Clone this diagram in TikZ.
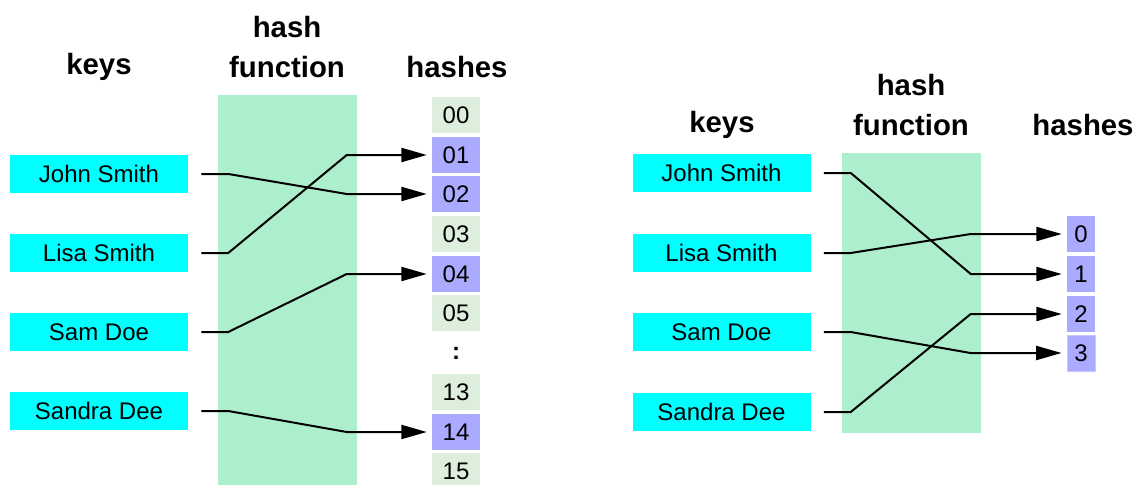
\documentclass[tikz,border=0pt]{standalone}
\usepackage{fontspec}
\setmainfont{Liberation Sans}
\usetikzlibrary{arrows.meta,calc}
\definecolor{keycyan}{HTML}{00FFFF}
\definecolor{fngreen}{HTML}{ADEFCD}
\definecolor{slotpale}{HTML}{DDEEDD}
\definecolor{slotblue}{HTML}{AAAAFF}
\definecolor{slotedge}{HTML}{C8C8FF}
\begin{document}
\begin{tikzpicture}[x=0.75pt,y=-0.75pt,
  keybox/.style={fill=keycyan, inner sep=0pt, minimum width=133.5pt, minimum height=28.5pt,
    font=\fontsize{18}{20}\selectfont},
  slot/.style={inner sep=0pt, minimum width=36pt, minimum height=27pt,
    font=\fontsize{18}{20}\selectfont},
  slotfree/.style={slot, fill=slotpale},
  slotused/.style={slot, fill=slotblue},
  smallslot/.style={slotused, minimum width=21pt},
  heading/.style={font=\fontsize{22}{30}\selectfont\bfseries, align=center, inner sep=0pt},
  link/.style={line width=1.5pt, -{Triangle[length=19pt,width=10.5pt]}, shorten >=3.75pt}
]
\useasboundingbox (0,0) rectangle (1135,485);

% ---------- left: sparse table ----------
\fill[fngreen] (218,95) rectangle (357,485);
\node[heading] (lkeys) at (99,67) {keys};
\node[heading] (lfn) at (287,47) {hash\\function};
\node[heading] (lhashes) at (457,67) {hashes};

\node[keybox] (la) at (99,174) {John Smith};
\node[keybox] (lb) at (99,253) {Lisa Smith};
\node[keybox] (lc) at (99,332) {Sam Doe};
\node[keybox] (ld) at (99,411) {Sandra Dee};

\node[slotfree] (h00) at (456,115) {00};
\node[slotused] (h01) at (456,155) {01};
\node[slotused] (h02) at (456,194) {02};
\node[slotfree] (h03) at (456,234) {03};
\node[slotused] (h04) at (456,274) {04};
\node[slotfree] (h05) at (456,313) {05};
\node[slot] (hdots) at (456,353) {\textbf{:}};
\node[slotfree] (h13) at (456,392) {13};
\node[slotused] (h14) at (456,432) {14};
\node[slotfree] (h15) at (456,471) {15};

\draw[link] ($(la.east)+(13,0)$) -- ++(27,0) -- ($(h02.west)+(-85,0)$) -- (h02.west);
\draw[link] ($(lb.east)+(13,0)$) -- ++(27,0) -- ($(h01.west)+(-85,0)$) -- (h01.west);
\draw[link] ($(lc.east)+(13,0)$) -- ++(27,0) -- ($(h04.west)+(-85,0)$) -- (h04.west);
\draw[link] ($(ld.east)+(13,0)$) -- ++(27,0) -- ($(h14.west)+(-85,0)$) -- (h14.west);

% ---------- right: perfect hash ----------
\fill[fngreen] (842,153) rectangle (981,433);
\node[heading] (rkeys) at (722,125) {keys};
\node[heading] (rfn) at (911,105) {hash\\function};
\node[heading] (rhashes) at (1083,125) {hashes};

\node[keybox] (ra) at (721.5,173) {John Smith};
\node[keybox] (rb) at (721.5,253) {Lisa Smith};
\node[keybox] (rc) at (721.5,332) {Sam Doe};
\node[keybox] (rd) at (721.5,412) {Sandra Dee};

\node[smallslot] (s0) at (1081,234) {0};
\node[smallslot] (s1) at (1081,274) {1};
\node[smallslot] (s2) at (1081,314) {2};
\node[smallslot, draw=slotedge, line width=0.75pt] (s3) at (1081,353) {3};

\draw[link] ($(ra.east)+(13,0)$) -- ++(27,0) -- ($(s1.west)+(-96,0)$) -- (s1.west);
\draw[link] ($(rb.east)+(13,0)$) -- ++(27,0) -- ($(s0.west)+(-96,0)$) -- (s0.west);
\draw[link] ($(rc.east)+(13,0)$) -- ++(27,0) -- ($(s3.west)+(-96,0)$) -- (s3.west);
\draw[link] ($(rd.east)+(13,0)$) -- ++(27,0) -- ($(s2.west)+(-96,0)$) -- (s2.west);
\end{tikzpicture}
\end{document}
